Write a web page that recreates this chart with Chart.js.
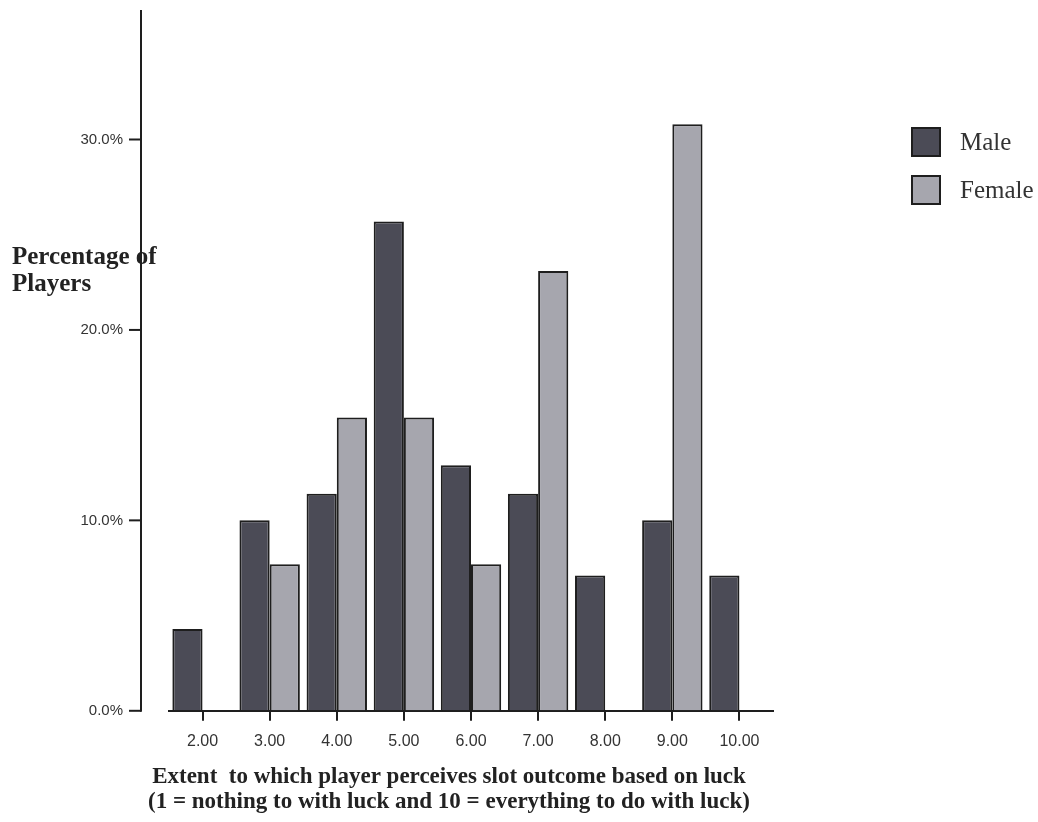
<!DOCTYPE html>
<html>
<head>
<meta charset="utf-8">
<script src="https://cdn.jsdelivr.net/npm/chart.js@4/dist/chart.umd.min.js"></script>
<style>
  html, body { margin: 0; padding: 0; background: #ffffff; }
  #wrap { width: 1038px; height: 822px; position: relative; }
</style>
</head>
<body>
<div id="wrap"><canvas id="barChart" width="1038" height="822"></canvas></div>
<script>
// categories on the x axis (luck rating)
var categories = ["2.00", "3.00", "4.00", "5.00", "6.00", "7.00", "8.00", "9.00", "10.00"];
// percentage of players
var maleValues = [4.3, 10.0, 11.4, 25.7, 12.9, 11.4, 7.1, 10.0, 7.1];
var femaleValues = [null, 7.7, 15.4, 15.4, 7.7, 23.1, null, 30.8, null];
var seriesNames = ["Male", "Female"];
var yTicks = [0, 10, 20, 30];

var MALE_COLOR = "#4b4b56";
var FEMALE_COLOR = "#a6a6ae";
var INK = "#1e1e1e";

// draws the detached y axis line, axis titles and the legend
var extras = {
    id: "extras",
    afterDraw: function(chart) {
        var ctx = chart.ctx;
        var y = chart.scales.y;
        var area = chart.chartArea;
        var axisX = area.left - 28;

        // y title goes under the axis line, like the original
        ctx.save();
        ctx.fillStyle = "#222";
        ctx.font = "bold 25px 'Liberation Serif'";
        ctx.textAlign = "left";
        ctx.textBaseline = "alphabetic";
        ctx.fillText("Percentage of", 12, 264);
        ctx.fillText("Players", 12, 291);

        ctx.strokeStyle = INK;
        ctx.lineWidth = 2;
        ctx.beginPath();
        ctx.moveTo(axisX, area.top);
        ctx.lineTo(axisX, y.getPixelForValue(0) + 1);
        ctx.stroke();
        yTicks.forEach(function(t) {
            var py = y.getPixelForValue(t);
            ctx.beginPath();
            ctx.moveTo(axisX - 12, py);
            ctx.lineTo(axisX, py);
            ctx.stroke();
        });

        // x title
        ctx.font = "bold 23px 'Liberation Serif'";
        ctx.textAlign = "center";
        ctx.fillText("Extent  to which player perceives slot outcome based on luck", 449, 783);
        ctx.fillText("(1 = nothing to with luck and 10 = everything to do with luck)", 449, 808);

        // legend
        var colors = [MALE_COLOR, FEMALE_COLOR];
        ctx.font = "25px 'Liberation Serif'";
        ctx.textAlign = "left";
        ctx.textBaseline = "middle";
        seriesNames.forEach(function(n, i) {
            var top = 128 + i * 48;
            ctx.fillStyle = colors[i];
            ctx.fillRect(912, top, 28, 28);
            ctx.strokeStyle = INK;
            ctx.lineWidth = 2;
            ctx.strokeRect(912, top, 28, 28);
            ctx.fillStyle = "#333";
            ctx.fillText(n, 960, top + 15);
        });
        ctx.restore();
    }
};

const CHART = document.getElementById("barChart");
let barChart = new Chart(CHART, {
    type: "bar",
    data: {
        labels: categories,
        datasets: [
            {
                label: seriesNames[0],
                data: maleValues,
                backgroundColor: MALE_COLOR,
                borderColor: INK,
                borderWidth: 2
            },
            {
                label: seriesNames[1],
                data: femaleValues,
                backgroundColor: FEMALE_COLOR,
                borderColor: INK,
                borderWidth: 2
            }
        ]
    },
    options: {
        responsive: false,
        animation: false,
        devicePixelRatio: 1,
        layout: { padding: { top: 10, right: 265, bottom: 60, left: 0 } },
        datasets: { bar: { categoryPercentage: 0.9, barPercentage: 1.0 } },
        plugins: {
            legend: { display: false },
            tooltip: { enabled: false }
        },
        scales: {
            x: {
                grid: { display: true, offset: false, drawOnChartArea: false, drawTicks: true, tickLength: 10, color: INK, lineWidth: 2 },
                border: { display: true, color: INK, width: 2 },
                ticks: { color: "#333", font: { family: "'Liberation Sans'", size: 16 }, padding: 11 }
            },
            y: {
                min: 0,
                max: 36.8,
                grid: { display: true, drawOnChartArea: false, drawTicks: true, tickLength: 46, color: "rgba(0,0,0,0)" },
                border: { display: false },
                afterFit: function(scale) { scale.width = 169; },
                afterBuildTicks: function(scale) {
                    scale.ticks = yTicks.map(function(v) { return { value: v }; });
                },
                ticks: {
                    color: "#333",
                    padding: 0,
                    font: { family: "'Liberation Sans'", size: 15 },
                    callback: function(v) { return v.toFixed(1) + "%"; }
                }
            }
        }
    },
    plugins: [extras]
});
</script>
</body>
</html>
